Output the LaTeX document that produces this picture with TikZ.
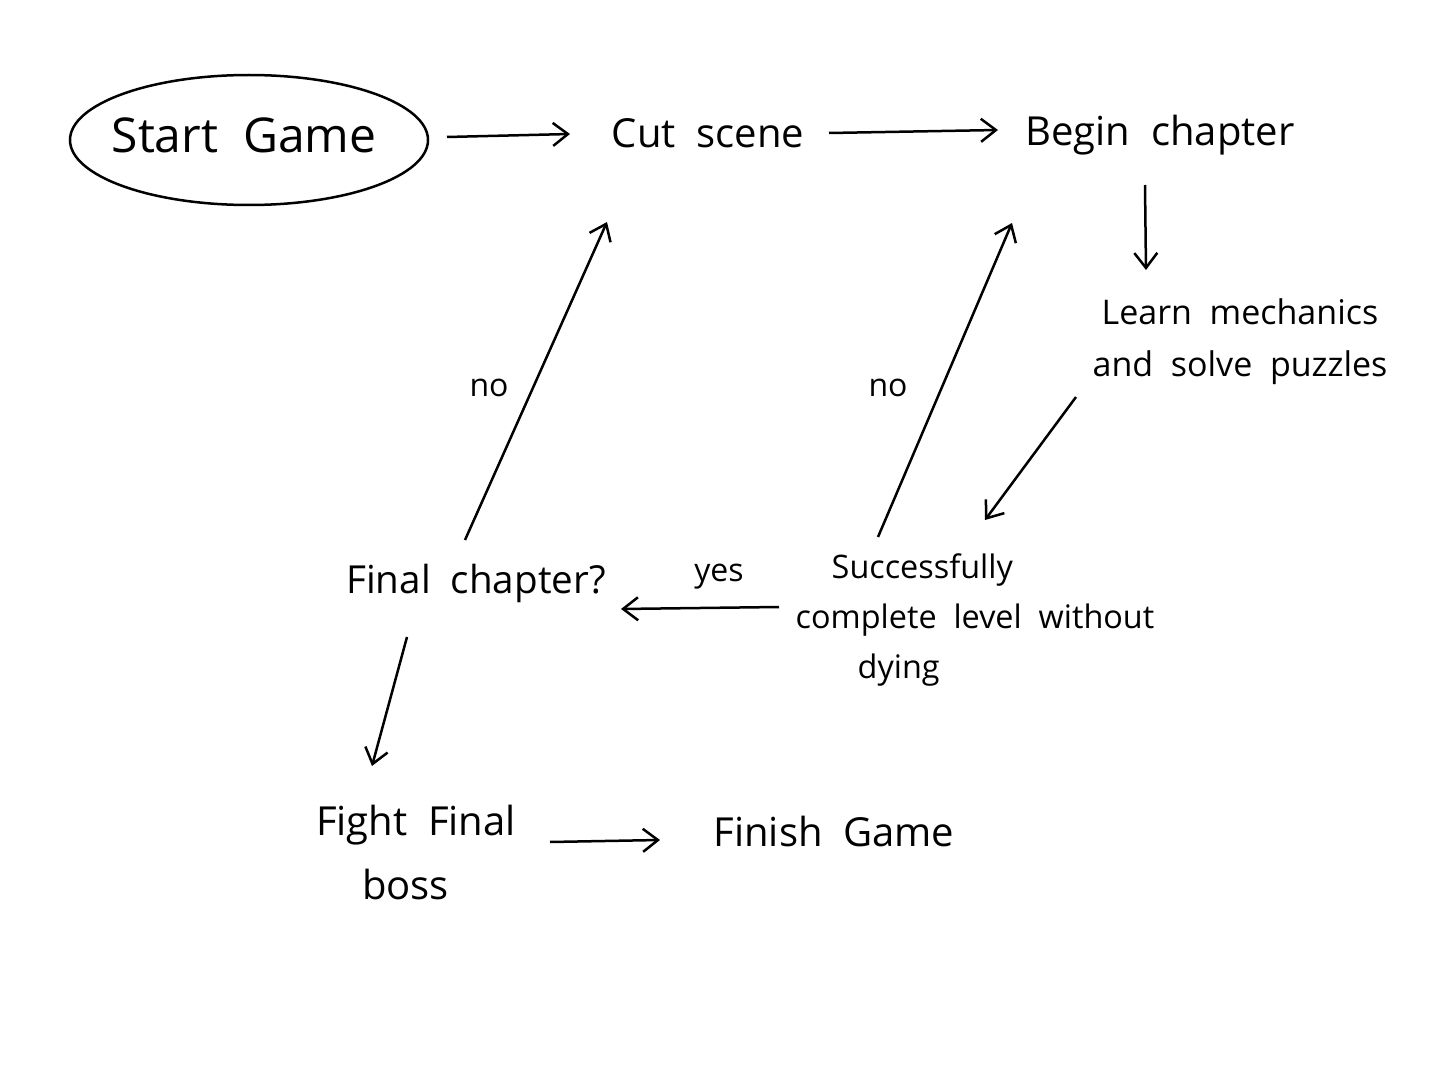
\documentclass[tikz,border=0pt]{standalone}
\usepackage{fontspec}
\setmainfont{Open Sans}
\usetikzlibrary{arrows.meta,calc,shapes.geometric}
\tikzset{
  lbl/.style={inner sep=0pt, align=center, font=\fontsize{20}{25}\selectfont},
  arr/.style={line width=1.25pt, -{Straight Barb[length=7.5pt,width=11.5pt,line width=1.25pt]}},
}
\begin{document}
\begin{tikzpicture}[x=0.5pt,y=-0.5pt]
\useasboundingbox (0,0) rectangle (1448,1086);
\fill[white] (0,0) rectangle (1448,1086);
\node[ellipse, draw, line width=1.25pt, minimum width=179pt, minimum height=65pt] (startE) at (249,140) {};
\node[lbl, font=\fontsize{24}{28}\selectfont] (start) at (244,135) {Start\ \ Game};
\node[lbl] (cut) at (708,133) {Cut\ \ scene};
\node[lbl] (begin) at (1160,135) {Begin\ \ chapter};
\node[lbl, font=\fontsize{17}{26}\selectfont] (learn) at (1240,342) {Learn\ \ mechanics\\and\ \ solve\ \ puzzles};
\node[lbl, align=left, font=\fontsize{16.2}{25}\selectfont] (succ) at (975,620) {\hspace*{18pt}Successfully\\complete\ \ level\ \ without\\\hspace*{31pt}dying};
\node[lbl, font=\fontsize{19.3}{25}\selectfont] (final) at (476,583) {Final\ \ chapter?};
\node[lbl, align=left, font=\fontsize{20}{32}\selectfont] (fight) at (416,852) {Fight\ \ Final\\\hspace*{23pt}boss};
\node[lbl] (finish) at (834,831) {Finish\ \ Game};
\node[lbl, font=\fontsize{16}{20}\selectfont] (no1) at (489,388) {no};
\node[lbl, font=\fontsize{16}{20}\selectfont] (no2) at (888,388) {no};
\node[lbl, font=\fontsize{16}{20}\selectfont] (yes) at (719,577) {yes};

\draw[arr] ($(startE)+(198,-3)$) -- ($(cut)+(-138,1)$);
\draw[arr] ($(cut)+(121,0)$) -- ($(begin)+(-162,-5)$);
\draw[arr] ($(begin)+(-15,50)$) -- ($(learn)+(-94,-72)$);
\draw[arr] ($(learn)+(-164,55)$) -- ($(succ)+(10,-100)$);
\draw[arr] ($(succ)+(-97,-83)$) -- ($(begin)+(-148,88)$);
\draw[arr] ($(succ)+(-196,-13)$) -- ($(final)+(145,26)$);
\draw[arr] ($(final)+(-11,-43)$) -- ($(cut)+(-101,89)$);
\draw[arr] ($(final)+(-69,54)$) -- ($(fight)+(-44,-86)$);
\draw[arr] ($(fight)+(134,-10)$) -- ($(finish)+(-174,9)$);
\end{tikzpicture}
\end{document}
